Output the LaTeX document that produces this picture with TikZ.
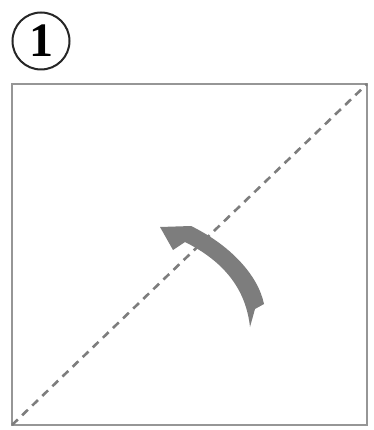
\documentclass[tikz,border=0pt]{standalone}
\usepackage{fontspec}
\setmainfont{Liberation Serif}
\usetikzlibrary{positioning, calc}
\definecolor{FoldGray}{RGB}{125, 125, 125}
\definecolor{EdgeGray}{RGB}{150, 150, 150}

\begin{document}
\begin{tikzpicture}[x=1pt, y=-1pt,
	num/.style={circle, draw=black!85, line width=2pt, inner sep=0pt,
		minimum size=57pt, font=\fontsize{48}{48}\selectfont\bfseries},
	sq/.style={draw=EdgeGray, line width=2pt},
	fold/.style={draw=FoldGray, line width=2.6pt, dash pattern=on 8pt off 6pt}]
	\useasboundingbox (0,0) rectangle (373,430);
	\node[num] (N) at (41,41) {1};
	\coordinate (BL) at (12,425);
	\coordinate (TR) at (367,84);
	\draw[sq] (BL) rectangle (TR);
	\draw[fold] (BL) -- (TR);
	% curved arrow
	\fill[FoldGray] (160,227) -- (191,226)
		.. controls (230,245) and (258,275) .. (264,304)
		-- (255,309) -- (250,327)
		.. controls (246,290) and (225,262) .. (185,242)
		-- (173,250) -- cycle;
\end{tikzpicture}
\end{document}
